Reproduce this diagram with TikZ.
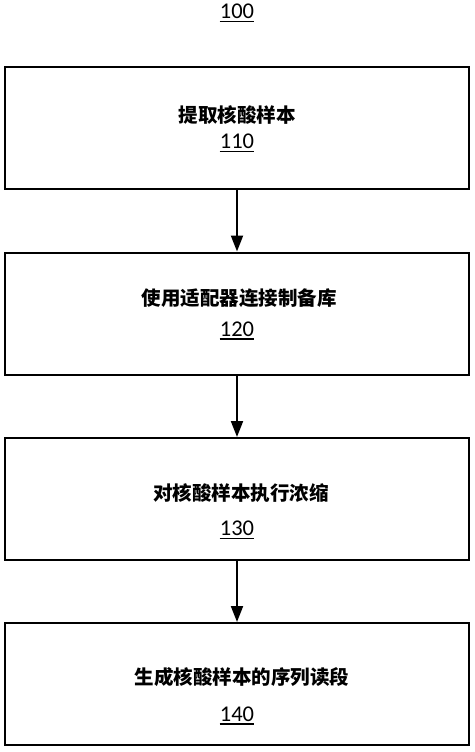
\documentclass[tikz,border=0pt]{standalone}
\usepackage{fontspec}
\setmainfont{Carlito}
\newfontfamily\cjk{Noto Sans CJK SC}
\usetikzlibrary{arrows.meta}
\tikzset{
  box/.style={draw=black, line width=2pt, minimum width=464pt, minimum height=122pt, inner sep=0pt},
  cjktext/.style={font=\cjk\fontsize{19.5pt}{22pt}\selectfont\bfseries, inner sep=0pt},
  numtext/.style={font=\fontsize{22.5pt}{26pt}\selectfont, inner sep=0pt, anchor=base},
  uline/.style={line width=1.5pt},
  flow/.style={line width=2pt, -{Triangle[width=12pt,length=16pt]}}
}
\begin{document}
\begin{tikzpicture}[x=1pt,y=-1pt]
\useasboundingbox (0,0) rectangle (474,752);
% title
\node[numtext] (t) at (237,19) {100};
\draw[uline] ([yshift=-2.5pt]t.base west) -- ([yshift=-2.5pt]t.base east);
% boxes
\node[box] (b1) at (237,128) {};
\node[box] (b2) at (237,313.5) {};
\node[box] (b3) at (237,499) {};
\node[box] (b4) at (237,684) {};
% texts
\node[cjktext] (c1) at (237,115) {提取核酸样本};
\node[numtext] (n1) at (237,148.3) {110};
\node[cjktext] (c2) at (239,298) {使用适配器连接制备库};
\node[numtext] (n2) at (237,336) {120};
\node[cjktext] (c3) at (241,493.5) {对核酸样本执行浓缩};
\node[numtext] (n3) at (237,535.3) {130};
\node[cjktext] (c4) at (242,677.5) {生成核酸样本的序列读段};
\node[numtext] (n4) at (237,721) {140};
\foreach \n in {n1,n2,n3,n4}{
  \draw[uline] ([yshift=-3.2pt]\n.base west) -- ([yshift=-3.2pt]\n.base east);
}
% arrows
\draw[flow] (b1.south) -- (b2.north);
\draw[flow] (b2.south) -- (b3.north);
\draw[flow] (b3.south) -- (b4.north);
\end{tikzpicture}
\end{document}
